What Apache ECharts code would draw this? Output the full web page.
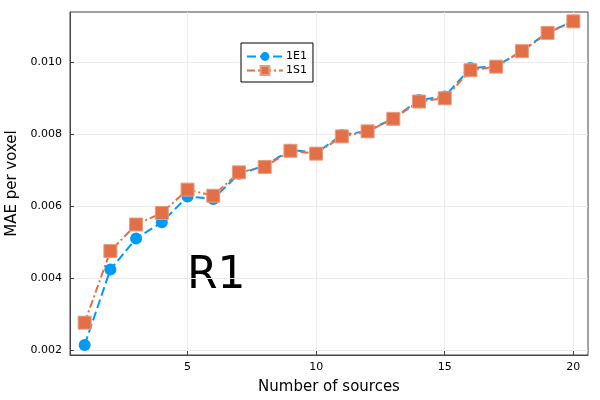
<!DOCTYPE html>
<html>
<head>
<meta charset="utf-8">
<script src="https://cdn.jsdelivr.net/npm/echarts@6/dist/echarts.min.js"></script>
<style>
  html, body { margin: 0; padding: 0; background: #fff; }
  #main { width: 600px; height: 400px; }
</style>
</head>
<body>
<div id="main"></div>
<script>
// number of sources on the x axis
var sources = [1, 2, 3, 4, 5, 6, 7, 8, 9, 10, 11, 12, 13, 14, 15, 16, 17, 18, 19, 20];
// MAE per voxel
var mae1E1 = [0.00214, 0.00424, 0.00510, 0.00555, 0.00627, 0.00620, 0.00690, 0.00712, 0.00757, 0.00748,
              0.00798, 0.00809, 0.00844, 0.00895, 0.00905, 0.00984, 0.00989, 0.01032, 0.01083, 0.01114];
var mae1S1 = [0.00276, 0.00475, 0.00549, 0.00581, 0.00646, 0.00629, 0.00694, 0.00709, 0.00754, 0.00746,
              0.00794, 0.00808, 0.00843, 0.00891, 0.00900, 0.00978, 0.00988, 0.01031, 0.01082, 0.01114];
var xTicks = [5, 10, 15, 20];
var yTicks = [0.002, 0.004, 0.006, 0.008, 0.010];

var myChart = echarts.init(document.getElementById('main'));

function pairs(xs, ys) {
    return xs.map(function (x, i) { return [x, ys[i]]; });
}

var font = 'DejaVu Sans';

var option = {
    animation: false,
    textStyle: { fontFamily: font, color: '#000' },
    grid: {
        left: 70, right: 12, top: 12, bottom: 45,
        outerBoundsMode: 'none',
        containLabel: false,
        show: true, borderColor: '#444', borderWidth: 1, backgroundColor: 'transparent'
    },
    legend: {
        left: 241, top: 43,
        orient: 'vertical',
        backgroundColor: '#fff',
        borderColor: '#000', borderWidth: 1, borderRadius: 0,
        padding: [8, 6, 6, 5],
        itemGap: 3,
        itemWidth: 36, itemHeight: 11,
        textStyle: { fontFamily: font, fontSize: 11, color: '#000', padding: [0, 0, 0, -2] },
        data: ['1E1', '1S1']
    },
    xAxis: {
        type: 'value',
        min: 0.43, max: 20.57,
        name: 'Number of sources',
        nameLocation: 'middle',
        nameGap: 25,
        nameTextStyle: { fontFamily: font, fontSize: 15, color: '#000' },
        axisLine: { show: true, lineStyle: { color: '#444', width: 1 } },
        axisTick: { show: true, inside: true, length: 4, customValues: xTicks, lineStyle: { color: '#444' } },
        axisLabel: { customValues: xTicks, fontSize: 11, color: '#000', margin: 7 },
        splitLine: { show: true, lineStyle: { color: '#ebebeb', width: 1 } }
    },
    yAxis: {
        type: 'value',
        min: 0.00186, max: 0.0114,
        name: 'MAE per voxel',
        nameLocation: 'middle',
        nameGap: 50,
        nameTextStyle: { fontFamily: font, fontSize: 15, color: '#000' },
        axisLine: { show: true, lineStyle: { color: '#444', width: 1 } },
        axisTick: { show: true, inside: true, length: 4, customValues: yTicks, lineStyle: { color: '#444' } },
        axisLabel: {
            customValues: yTicks, fontSize: 11, color: '#000', margin: 8,
            formatter: function (v) { return v.toFixed(3); }
        },
        splitLine: { show: true, lineStyle: { color: '#ebebeb', width: 1 } }
    },
    graphic: [{
        type: 'text',
        left: 187, top: 255,
        style: { text: 'R1', fontFamily: font, fontSize: 44, fill: '#000' }
    }],
    series: [
        {
            name: '1E1',
            type: 'line',
            data: pairs(sources, mae1E1),
            symbol: 'circle',
            symbolSize: 12,
            itemStyle: { color: '#009AFA' },
            lineStyle: { color: '#009AFA', width: 2, type: [9, 4] }
        },
        {
            name: '1S1',
            type: 'line',
            data: pairs(sources, mae1S1),
            symbol: 'rect',
            symbolSize: 13,
            itemStyle: { color: '#E26F46', borderColor: '#eb9c80', borderWidth: 1 },
            lineStyle: { color: '#E26F46', width: 2, type: [8, 3, 2, 3] }
        }
    ]
};

myChart.setOption(option);
</script>
</body>
</html>
